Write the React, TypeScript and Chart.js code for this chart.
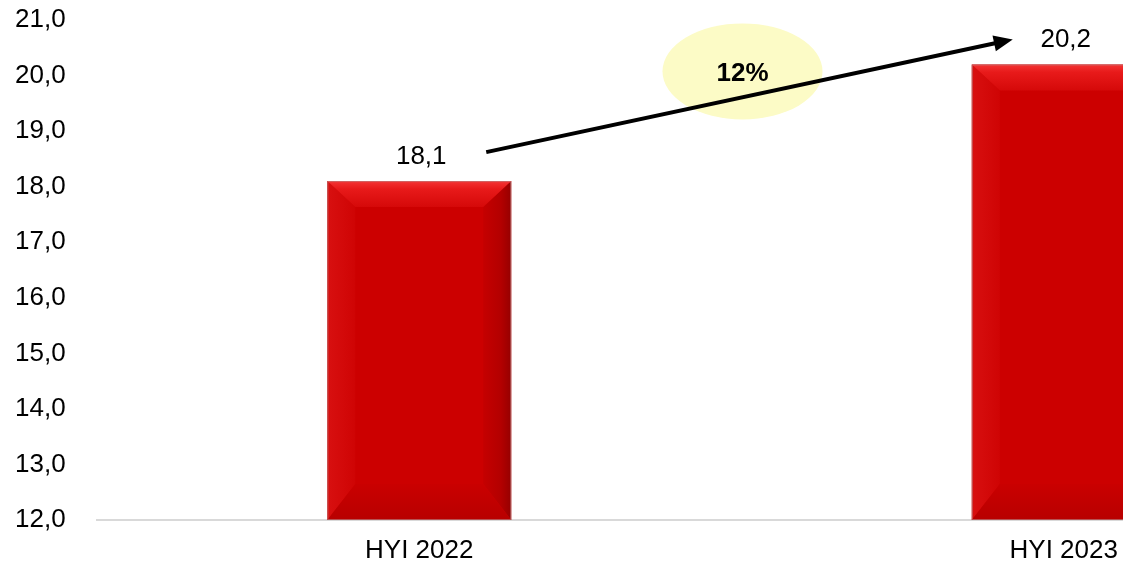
import React, { useEffect, useRef } from 'react';
import { Chart, registerables } from 'chart.js';

Chart.register(...registerables);

const categories: string[] = ['HYI 2022', 'HYI 2023'];
const values: number[] = [18.1, 20.2];
const yTickValues: number[] = [12, 13, 14, 15, 16, 17, 18, 19, 20, 21];
const growthLabel = '12%';

const fmt = (v: number) => v.toFixed(1).replace('.', ',');
const FONT = "'Liberation Sans', Arial, Helvetica, sans-serif";

const bevelPlugin = {
  id: 'bevel',
  afterDatasetsDraw(chart: any) {
    const ctx: CanvasRenderingContext2D = chart.ctx;
    const meta = chart.getDatasetMeta(0);
    const area = chart.chartArea;
    meta.data.forEach((bar: any) => {
      const { x, y, base, width } = bar.getProps(['x', 'y', 'base', 'width'], true);
      const l = x - width / 2;
      const r = x + width / 2;
      const t = y;
      const b = Math.min(base, area.bottom);
      const bt = 26;
      const bs = 28;
      const bb = 36;
      ctx.save();
      // left
      let g = ctx.createLinearGradient(l, 0, l + bs, 0);
      g.addColorStop(0, '#d81010');
      g.addColorStop(1, '#cf0404');
      ctx.fillStyle = g;
      ctx.beginPath();
      ctx.moveTo(l, t);
      ctx.lineTo(l + bs, t + bt);
      ctx.lineTo(l + bs, b - bb);
      ctx.lineTo(l, b);
      ctx.closePath();
      ctx.fill();
      // right
      g = ctx.createLinearGradient(r, 0, r - bs - 6, 0);
      g.addColorStop(0, '#960000');
      g.addColorStop(0.3, '#b30000');
      g.addColorStop(1, '#cb0000');
      ctx.fillStyle = g;
      ctx.beginPath();
      ctx.moveTo(r, t);
      ctx.lineTo(r - bs, t + bt);
      ctx.lineTo(r - bs, b - bb);
      ctx.lineTo(r, b);
      ctx.closePath();
      ctx.fill();
      // bottom
      g = ctx.createLinearGradient(0, b - bb, 0, b);
      g.addColorStop(0, '#ca0000');
      g.addColorStop(1, '#b80000');
      ctx.fillStyle = g;
      ctx.beginPath();
      ctx.moveTo(l, b);
      ctx.lineTo(l + bs, b - bb);
      ctx.lineTo(r - bs, b - bb);
      ctx.lineTo(r, b);
      ctx.closePath();
      ctx.fill();
      // top
      g = ctx.createLinearGradient(0, t, 0, t + bt);
      g.addColorStop(0, '#f43434');
      g.addColorStop(0.3, '#e81a1a');
      g.addColorStop(1, '#d50909');
      ctx.fillStyle = g;
      ctx.beginPath();
      ctx.moveTo(l, t);
      ctx.lineTo(r, t);
      ctx.lineTo(r - bs, t + bt);
      ctx.lineTo(l + bs, t + bt);
      ctx.closePath();
      ctx.fill();
      // outline
      ctx.strokeStyle = 'rgba(180,140,140,0.6)';
      ctx.lineWidth = 1;
      ctx.strokeRect(l + 0.5, t + 0.5, width - 1, b - t - 1);
      ctx.restore();
    });
  },
};

const annotationPlugin = {
  id: 'annotations',
  afterDraw(chart: any) {
    const ctx: CanvasRenderingContext2D = chart.ctx;
    const meta = chart.getDatasetMeta(0);
    const bars = meta.data.map((bar: any) => bar.getProps(['x', 'y'], true));
    ctx.save();
    // data labels
    ctx.fillStyle = '#000';
    ctx.font = `26px ${FONT}`;
    ctx.textAlign = 'center';
    ctx.textBaseline = 'alphabetic';
    bars.forEach((p: any, i: number) => {
      ctx.fillText(fmt(values[i]), p.x + 2, p.y - 17);
    });
    const p0 = bars[0];
    const p1 = bars[1];
    // ellipse
    const cx = (p0.x + p1.x) / 2 + 1;
    const cy = p1.y + 7;
    ctx.fillStyle = '#fcfbc6';
    ctx.beginPath();
    ctx.ellipse(cx, cy, 80, 48, 0, 0, Math.PI * 2);
    ctx.fill();
    // arrow
    const sx = p0.x + 67;
    const sy = p0.y - 29;
    const ex = p1.x - 51;
    const ey = p1.y - 25;
    const ang = Math.atan2(ey - sy, ex - sx);
    const headLen = 19;
    const headHalf = 8;
    const bx = ex - headLen * Math.cos(ang);
    const by = ey - headLen * Math.sin(ang);
    ctx.strokeStyle = '#000';
    ctx.lineWidth = 4;
    ctx.beginPath();
    ctx.moveTo(sx, sy);
    ctx.lineTo(bx + 2 * Math.cos(ang), by + 2 * Math.sin(ang));
    ctx.stroke();
    ctx.fillStyle = '#000';
    ctx.beginPath();
    ctx.moveTo(ex, ey);
    ctx.lineTo(bx + headHalf * Math.sin(ang), by - headHalf * Math.cos(ang));
    ctx.lineTo(bx - headHalf * Math.sin(ang), by + headHalf * Math.cos(ang));
    ctx.closePath();
    ctx.fill();
    // growth label
    ctx.font = `bold 26px ${FONT}`;
    ctx.textBaseline = 'middle';
    ctx.fillText(growthLabel, cx, cy + 2);
    ctx.restore();
  },
};

export default function App() {
  const canvasRef = useRef<HTMLCanvasElement | null>(null);

  useEffect(() => {
    if (!canvasRef.current) return;
    const chart = new Chart(canvasRef.current, {
      type: 'bar',
      data: {
        labels: categories,
        datasets: [
          {
            data: values,
            backgroundColor: '#cc0000',
            borderWidth: 0,
            categoryPercentage: 1,
            barPercentage: 0.2853,
          },
        ],
      },
      options: {
        animation: false,
        responsive: true,
        maintainAspectRatio: false,
        layout: { padding: { top: 20, right: 14, left: 15, bottom: 0 } },
        plugins: {
          legend: { display: false },
          tooltip: { enabled: false },
        },
        scales: {
          x: {
            grid: { display: true, color: 'transparent', drawTicks: false },
            border: { display: true, color: '#d9d9d9', width: 2 },
            ticks: {
              color: '#000',
              font: { family: FONT, size: 26 },
              padding: 15,
              maxRotation: 0,
            },
            afterFit: (scale: any) => {
              scale.height = 44;
            },
          },
          y: {
            min: yTickValues[0],
            max: yTickValues[yTickValues.length - 1],
            grid: { display: false, drawTicks: false },
            border: { display: false },
            afterBuildTicks: (scale: any) => {
              scale.ticks = yTickValues.map((v) => ({ value: v }));
            },
            ticks: {
              color: '#000',
              font: { family: FONT, size: 26 },
              padding: 3,
              crossAlign: 'far',
              callback: (v: any) => fmt(Number(v)),
            },
            afterFit: (scale: any) => {
              scale.width = 82;
            },
          },
        },
      },
      plugins: [bevelPlugin, annotationPlugin],
    });
    return () => chart.destroy();
  }, []);

  return (
    <div
      style={{
        position: 'fixed',
        left: 0,
        top: 0,
        width: 1123,
        height: 564,
        overflow: 'hidden',
        background: '#fff',
      }}
    >
      <div style={{ position: 'relative', width: 1400, height: 564 }}>
        <canvas ref={canvasRef} />
      </div>
    </div>
  );
}
